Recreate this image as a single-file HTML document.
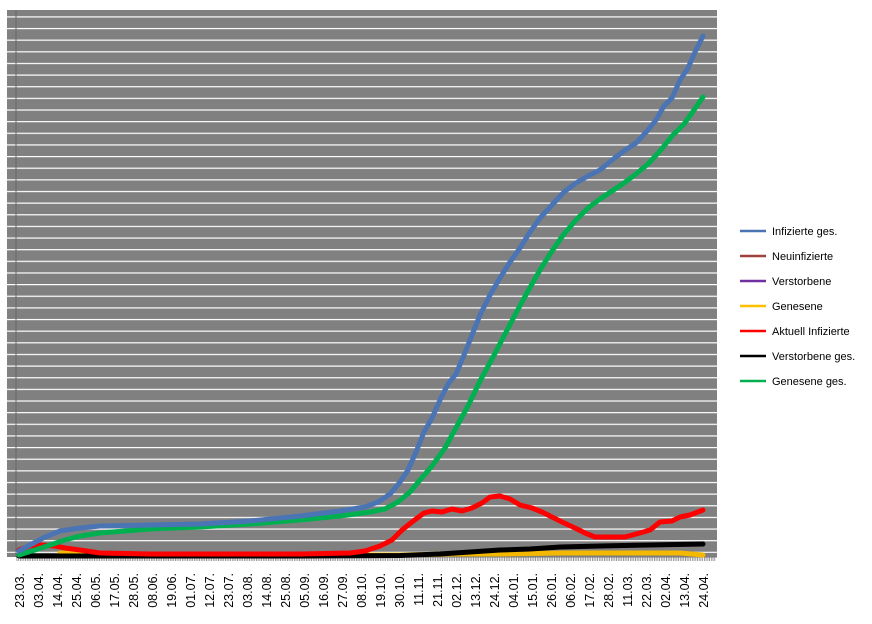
<!DOCTYPE html>
<html><head><meta charset="utf-8"><style>
html,body{margin:0;padding:0;background:#fff;width:872px;height:624px;overflow:hidden}
svg{display:block}
text{font-family:"Liberation Sans",sans-serif}
</style></head><body>
<svg width="872" height="624" viewBox="0 0 872 624">
<defs>
<pattern id="grid" patternUnits="userSpaceOnUse" x="0" y="16.3" width="10" height="11.64">
<rect x="0" y="0" width="10" height="1.2" fill="#fff"/>
</pattern>
<pattern id="ticks" patternUnits="userSpaceOnUse" x="16.5" y="557" width="1.723" height="5">
<rect x="0" y="0" width="0.8" height="5" fill="#888"/>
</pattern>
</defs>
<rect x="7" y="10" width="710" height="547" fill="#808080"/>
<rect x="7" y="15" width="710" height="538" fill="url(#grid)"/>
<line x1="16" y1="10" x2="16" y2="557" stroke="#666" stroke-width="1"/>
<rect x="16" y="557" width="700" height="4" fill="url(#ticks)"/>
<line x1="16" y1="557" x2="717" y2="557" stroke="#777"/>
<g fill="none" stroke-width="5" stroke-linejoin="round" stroke-linecap="round">
<polyline stroke="#f5b800" points="60,553 80,554 120,555 400,555 450,554 500,554 560,553 640,553 680,553 703,555"/>
<polyline stroke="#000" points="19,556 100,556 200,556 300,556 400,555.5 440,554 470,552 500,550 530,549 560,547 600,546 650,545 703,544"/>
<polyline stroke="#ff0000" points="19,550 30,546 40,545 55,546 65,548 80,550 100,553 150,554 300,554 350,553 365,551 380,546 392,540 402,530 412,522 424,513 432,511 442,512 452,509 462,511 472,508 482,503 490,497 500,496 510,499 520,505 532,508 542,512 552,517 562,522 575,528 585,533 595,537 610,537 625,537 640,533 650,530 660,522 672,521 680,517 690,515 703,510"/>
<polyline stroke="#00b050" points="19,555 35,550 50,545 65,540 80,536 100,533 150,529 200,527 250,524 300,520 340,516 370,512 385,509 398,502 410,492 420,480 432,466 445,448 457,426 468,406 480,381 492,359 504,336 516,313 528,291 540,270 552,251 564,234 576,220 588,208 600,199 612,191 624,183 636,174 648,164 660,151 672,136 684,124 694,110 703,97"/>
<polyline stroke="#4a74b4" points="19,551 30,545 45,537 60,531 80,528 100,526 150,525 200,524 250,521 300,516 340,511 365,507 378,502 390,494 400,482 408,470 416,452 424,432 432,418 440,400 448,384 456,374 464,355 472,335 480,315 490,295 500,278 510,262 520,248 530,232 540,218 552,205 564,192 576,183 588,176 600,170 612,160 624,151 636,143 648,130 656,120 664,106 672,98 680,80 688,68 695,52 703,36"/>
</g>
<g font-size="12.5" fill="#000">
<text transform="translate(24,573) rotate(-90)" text-anchor="end">23.03.</text>
<text transform="translate(43,573) rotate(-90)" text-anchor="end">03.04.</text>
<text transform="translate(62,573) rotate(-90)" text-anchor="end">14.04.</text>
<text transform="translate(81,573) rotate(-90)" text-anchor="end">25.04.</text>
<text transform="translate(100,573) rotate(-90)" text-anchor="end">06.05.</text>
<text transform="translate(119,573) rotate(-90)" text-anchor="end">17.05.</text>
<text transform="translate(138,573) rotate(-90)" text-anchor="end">28.05.</text>
<text transform="translate(157,573) rotate(-90)" text-anchor="end">08.06.</text>
<text transform="translate(176,573) rotate(-90)" text-anchor="end">19.06.</text>
<text transform="translate(195,573) rotate(-90)" text-anchor="end">01.07.</text>
<text transform="translate(214,573) rotate(-90)" text-anchor="end">12.07.</text>
<text transform="translate(233,573) rotate(-90)" text-anchor="end">23.07.</text>
<text transform="translate(252,573) rotate(-90)" text-anchor="end">03.08.</text>
<text transform="translate(271,573) rotate(-90)" text-anchor="end">14.08.</text>
<text transform="translate(290,573) rotate(-90)" text-anchor="end">25.08.</text>
<text transform="translate(309,573) rotate(-90)" text-anchor="end">05.09.</text>
<text transform="translate(328,573) rotate(-90)" text-anchor="end">16.09.</text>
<text transform="translate(347,573) rotate(-90)" text-anchor="end">27.09.</text>
<text transform="translate(366,573) rotate(-90)" text-anchor="end">08.10.</text>
<text transform="translate(385,573) rotate(-90)" text-anchor="end">19.10.</text>
<text transform="translate(404,573) rotate(-90)" text-anchor="end">30.10.</text>
<text transform="translate(423,573) rotate(-90)" text-anchor="end">11.11.</text>
<text transform="translate(442,573) rotate(-90)" text-anchor="end">21.11.</text>
<text transform="translate(461,573) rotate(-90)" text-anchor="end">02.12.</text>
<text transform="translate(480,573) rotate(-90)" text-anchor="end">13.12.</text>
<text transform="translate(499,573) rotate(-90)" text-anchor="end">24.12.</text>
<text transform="translate(518,573) rotate(-90)" text-anchor="end">04.01.</text>
<text transform="translate(537,573) rotate(-90)" text-anchor="end">15.01.</text>
<text transform="translate(556,573) rotate(-90)" text-anchor="end">26.01.</text>
<text transform="translate(575,573) rotate(-90)" text-anchor="end">06.02.</text>
<text transform="translate(594,573) rotate(-90)" text-anchor="end">17.02.</text>
<text transform="translate(613,573) rotate(-90)" text-anchor="end">28.02.</text>
<text transform="translate(632,573) rotate(-90)" text-anchor="end">11.03.</text>
<text transform="translate(651,573) rotate(-90)" text-anchor="end">22.03.</text>
<text transform="translate(670,573) rotate(-90)" text-anchor="end">02.04.</text>
<text transform="translate(689,573) rotate(-90)" text-anchor="end">13.04.</text>
<text transform="translate(708,573) rotate(-90)" text-anchor="end">24.04.</text>
</g>
<g stroke-width="2.5">
<line x1="740" y1="231" x2="766" y2="231" stroke="#4a74b4"/>
<line x1="740" y1="256" x2="766" y2="256" stroke="#a0413c"/>
<line x1="740" y1="281" x2="766" y2="281" stroke="#7030a0"/>
<line x1="740" y1="306" x2="766" y2="306" stroke="#ffc000"/>
<line x1="740" y1="331" x2="766" y2="331" stroke="#ff0000"/>
<line x1="740" y1="356" x2="766" y2="356" stroke="#000"/>
<line x1="740" y1="381" x2="766" y2="381" stroke="#00b050"/>
</g>
<g font-size="11" fill="#000">
<text x="772" y="235">Infizierte ges.</text>
<text x="772" y="260">Neuinfizierte</text>
<text x="772" y="285">Verstorbene</text>
<text x="772" y="310">Genesene</text>
<text x="772" y="335">Aktuell Infizierte</text>
<text x="772" y="360">Verstorbene ges.</text>
<text x="772" y="385">Genesene ges.</text>
</g>
</svg>
</body></html>
